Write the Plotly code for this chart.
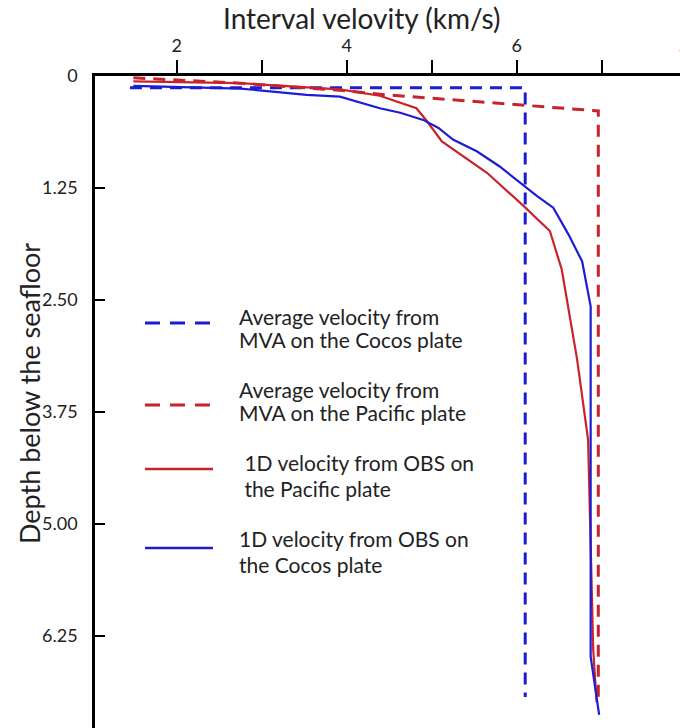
import plotly.graph_objects as go

# ---------------- data ----------------
cocos_mva_v = [1.45, 6.10, 6.10]
cocos_mva_d = [0.13, 0.13, 6.93]

pacific_mva_v = [1.49, 2.75, 3.92, 4.47, 5.45, 6.96, 6.96]
pacific_mva_d = [0.02, 0.08, 0.16, 0.21, 0.28, 0.39, 6.99]

pacific_obs_v = [1.49, 2.75, 3.92, 4.39, 4.82, 4.94, 5.12, 5.65, 6.08, 6.39,
                 6.53, 6.63, 6.71, 6.84, 6.90, 6.94]
pacific_obs_d = [0.06, 0.08, 0.15, 0.22, 0.36, 0.50, 0.73, 1.08, 1.45, 1.73,
                 2.16, 2.72, 3.16, 4.06, 6.40, 6.99]

cocos_obs_v = [1.49, 2.75, 3.53, 3.92, 4.39, 4.63, 4.90, 5.08, 5.25, 5.53,
               5.80, 6.04, 6.24, 6.43, 6.61, 6.77, 6.87, 6.87, 6.97]
cocos_obs_d = [0.11, 0.14, 0.21, 0.23, 0.36, 0.41, 0.49, 0.58, 0.71, 0.84,
               1.01, 1.19, 1.34, 1.47, 1.77, 2.07, 2.57, 6.48, 7.13]

x_tickvals = [2, 3, 4, 5, 6, 7]
x_ticktext = ["2", "", "4", "", "6", ""]
y_tickvals = [0, 1.25, 2.5, 3.75, 5.0, 6.25]
y_ticktext = ["0", "1.25", "2.50", "3.75", "5.00", "6.25"]

x_title = "Interval velovity (km/s)"
y_title = "Depth below the seafloor"

legend_labels = [
    ["Average velocity from", "MVA on the Cocos plate"],
    ["Average velocity from", "MVA on the Pacific plate"],
    [" 1D velocity from OBS on", " the Pacific plate"],
    ["1D velocity from OBS on", "the Cocos plate"],
]

BLUE = "#1c1cd2"
RED = "#c8232b"
TEXT_FONT = "Lato, Open Sans, sans-serif"
TICK_FONT = "Lato, sans-serif"
TXT = "#222"

W, H = 680, 728
ML, MR, MT, MB = 95, 0, 76, 0
PW, PH = W - ML - MR, H - MT - MB


def px(x):
    return (x - ML) / PW


def py(y):
    return (H - MB - y) / PH


fig = go.Figure()
fig.add_trace(go.Scatter(x=cocos_mva_v, y=cocos_mva_d, mode="lines",
                         line=dict(color=BLUE, width=3, dash="12px,8px"),
                         showlegend=False))
fig.add_trace(go.Scatter(x=pacific_mva_v, y=pacific_mva_d, mode="lines",
                         line=dict(color=RED, width=3, dash="12px,8px"),
                         showlegend=False))
fig.add_trace(go.Scatter(x=pacific_obs_v, y=pacific_obs_d, mode="lines",
                         line=dict(color=RED, width=2.2), showlegend=False))
fig.add_trace(go.Scatter(x=cocos_obs_v, y=cocos_obs_d, mode="lines",
                         line=dict(color=BLUE, width=2.2), showlegend=False))

# ---------------- manual legend ----------------
legend_styles = [
    (BLUE, "15px,10px", 3), (RED, "15px,10px", 3),
    (RED, "solid", 2.5), (BLUE, "solid", 2.5),
]
sample_y = [323, 405, 469, 548]
text_y = [(316, 339), (389, 412), (462, 488), (538, 564)]
shapes = []
annotations = []
for i, (col, dash, w) in enumerate(legend_styles):
    shapes.append(dict(type="line", xref="paper", yref="paper",
                       x0=px(145), x1=px(213), y0=py(sample_y[i]), y1=py(sample_y[i]),
                       line=dict(color=col, width=w, dash=dash)))
    for j, line in enumerate(legend_labels[i]):
        annotations.append(dict(text=line, xref="paper", yref="paper",
                                x=px(237), y=py(text_y[i][j]), xanchor="left",
                                yanchor="middle", showarrow=False,
                                font=dict(family=TEXT_FONT, size=21, color=TXT)))

# axis titles
annotations.append(dict(text=x_title, xref="paper", yref="paper", x=px(362), y=py(18),
                        xanchor="center", yanchor="middle", showarrow=False,
                        font=dict(family=TEXT_FONT, size=28, color=TXT)))
annotations.append(dict(text=y_title, xref="paper", yref="paper", x=px(29), y=py(394),
                        xanchor="center", yanchor="middle", showarrow=False,
                        textangle=-90,
                        font=dict(family=TEXT_FONT, size=27, color=TXT)))

# partially visible "8" tick label at the right edge
annotations.append(dict(text="8", xref="paper", yref="paper", x=px(684), y=py(47),
                        xanchor="center", yanchor="middle", showarrow=False,
                        font=dict(family=TICK_FONT, size=18, color=TXT)))

fig.update_layout(
    width=W, height=H,
    margin=dict(l=ML, r=MR, t=MT, b=MB, pad=0),
    paper_bgcolor="white", plot_bgcolor="white",
    shapes=shapes, annotations=annotations,
    xaxis=dict(range=[1.039, 7.921], side="top", showline=True, linecolor="black",
               linewidth=2.5, ticks="outside", ticklen=13, tickwidth=2,
               tickcolor="black", tickvals=x_tickvals, ticktext=x_ticktext,
               showgrid=False, zeroline=False, ticklabelstandoff=1,
               tickfont=dict(family=TICK_FONT, size=18, color=TXT)),
    yaxis=dict(range=[7.277, 0], showline=True, linecolor="black",
               linewidth=2.5, ticks="inside", ticklen=10, tickwidth=2,
               tickcolor="black", tickvals=y_tickvals, ticktext=y_ticktext,
               showgrid=False, zeroline=False, ticklabelstandoff=11,
               tickfont=dict(family=TICK_FONT, size=18, color=TXT)),
)

fig.write_html("out.html")
